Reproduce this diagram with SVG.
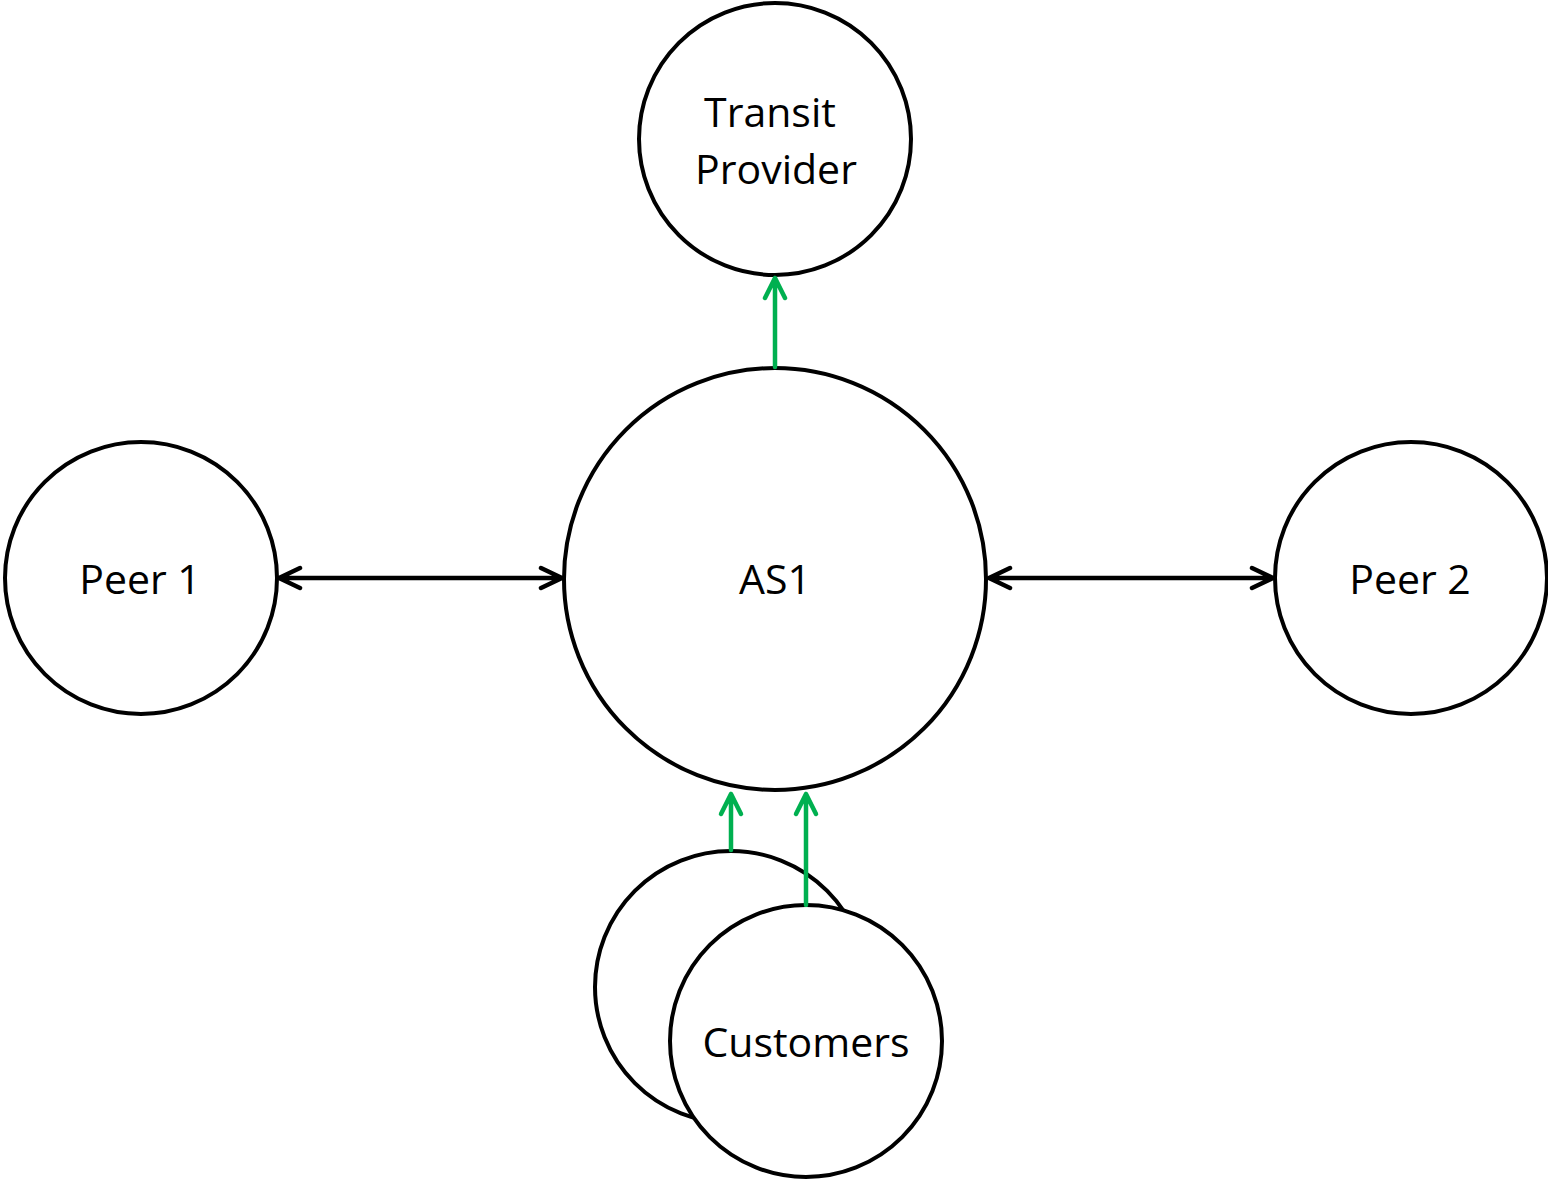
<svg xmlns="http://www.w3.org/2000/svg" width="1548" height="1179" viewBox="0 0 1548 1179">
<style>
.node{fill:#fff;stroke:#000;stroke-width:4}
.lbl{font-family:"Open Sans","Noto Sans",sans-serif;font-size:41px;fill:#000;text-anchor:middle}
.blk{stroke:#000;stroke-width:4.5;fill:none;stroke-linecap:round;stroke-linejoin:round}
.grn{stroke:#00B050;stroke-width:4.5;fill:none;stroke-linecap:round;stroke-linejoin:round}
</style>
<rect width="1548" height="1179" fill="#fff"/>
<g id="transit">
<circle class="node" cx="775" cy="139" r="136"/>
<text class="lbl" x="770" y="127">Transit</text>
<text class="lbl" x="776" y="184">Provider</text>
</g>
<g id="as1">
<circle class="node" cx="775" cy="579" r="211"/>
<text class="lbl" x="775" y="594">AS1</text>
</g>
<g id="peer1">
<circle class="node" cx="141" cy="578" r="136"/>
<text class="lbl" x="140" y="594">Peer 1</text>
</g>
<g id="peer2">
<circle class="node" cx="1411" cy="578" r="136"/>
<text class="lbl" x="1410" y="594">Peer 2</text>
</g>
<g id="customers">
<circle class="node" cx="731" cy="987" r="136"/>
<circle class="node" cx="806" cy="1041" r="136"/>
<text class="lbl" x="806" y="1057">Customers</text>
</g>
<g id="connectors">
<path class="blk" d="M279 578H562M300 568L279 578L300 588M541 568L562 578L541 588"/>
<path class="blk" d="M989 578H1273M1010 568L989 578L1010 588M1252 568L1273 578L1252 588"/>
<path class="grn" d="M775 367V278M765 298L775 278L785 298"/>
<path class="grn" d="M731 850V794M721 814L731 794L741 814"/>
<path class="grn" d="M806 905V794M796 814L806 794L816 814"/>
</g>
</svg>
